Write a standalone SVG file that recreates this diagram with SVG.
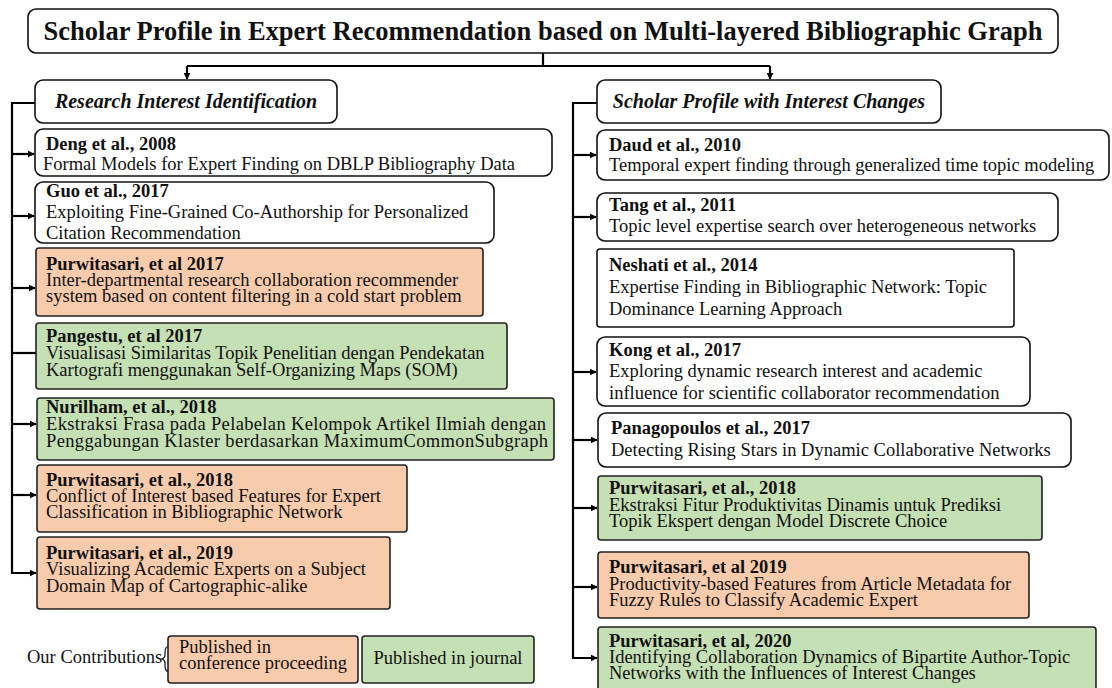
<svg xmlns="http://www.w3.org/2000/svg" width="1112" height="688" viewBox="0 0 1112 688">
  <defs>
    <marker id="arrow" viewBox="0 0 10 10" refX="9" refY="5" markerWidth="7" markerHeight="7" markerUnits="userSpaceOnUse" orient="auto">
      <path d="M0,0 L10,5 L0,10 z" fill="#000"/>
    </marker>
    <style>
      text { font-family: "Liberation Serif", "Times New Roman", serif; fill: #111; }
      .title { font-size: 26.5px; font-weight: bold; }
      .head { font-size: 20px; font-weight: bold; font-style: italic; }
      .t { font-size: 18.5px; font-weight: bold; }
      .b { font-size: 18.5px; }
      .white { fill: #fff; stroke: #111; stroke-width: 1.6; }
      .conf { fill: #F8CBAD; stroke: #222; stroke-width: 1.6; }
      .jour { fill: #C5E0B4; stroke: #222; stroke-width: 1.6; }
      .wire { fill: none; stroke: #000; stroke-width: 2.2; }
    </style>
  </defs>
  <rect width="1112" height="688" fill="#fff"/>

  <!-- connectors -->
  <g id="connectors" class="wire">
    <path d="M543,53 V66"/>
    <path d="M187,66 H770"/>
    <path d="M187,66 V79" marker-end="url(#arrow)"/>
    <path d="M770,66 V79" marker-end="url(#arrow)"/>
    <!-- left trunk -->
    <path d="M35,103 H12 V573 H36" marker-end="url(#arrow)"/>
    <path d="M12,154 H34" marker-end="url(#arrow)"/>
    <path d="M12,216 H34" marker-end="url(#arrow)"/>
    <path d="M12,288 H35" marker-end="url(#arrow)"/>
    <path d="M12,353 H36"/>
    <path d="M12,424 H36" marker-end="url(#arrow)"/>
    <path d="M12,495 H36" marker-end="url(#arrow)"/>
    <!-- right trunk -->
    <path d="M597,103 H573 V658 H597" marker-end="url(#arrow)"/>
    <path d="M573,155 H596" marker-end="url(#arrow)"/>
    <path d="M573,217 H596" marker-end="url(#arrow)"/>
    <path d="M573,372 H596" marker-end="url(#arrow)"/>
    <path d="M573,440 H597" marker-end="url(#arrow)"/>
    <path d="M573,508 H597" marker-end="url(#arrow)"/>
    <path d="M573,587 H597" marker-end="url(#arrow)"/>
  </g>

  <!-- root -->
  <g id="root">
    <rect class="white" x="28" y="9" width="1030" height="44" rx="8"/>
    <text class="title" x="543" y="40" text-anchor="middle">Scholar Profile in Expert Recommendation based on Multi-layered Bibliographic Graph</text>
  </g>

  <!-- branch headers -->
  <g id="research-interest">
    <rect class="white" x="35" y="80" width="302" height="43" rx="8"/>
    <text class="head" x="186" y="108" text-anchor="middle">Research Interest Identification</text>
  </g>
  <g id="interest-changes">
    <rect class="white" x="597" y="80" width="344" height="43" rx="8"/>
    <text class="head" x="769" y="108" text-anchor="middle">Scholar Profile with Interest Changes</text>
  </g>

  <!-- left column -->
  <g id="deng2008">
    <rect class="white" x="35" y="129" width="517" height="47" rx="8"/>
    <text class="t" x="46" y="150">Deng et al., 2008</text>
    <text class="b" x="43" y="170">Formal Models for Expert Finding on DBLP Bibliography Data</text>
  </g>
  <g id="guo2017">
    <rect class="white" x="35" y="182" width="459" height="61" rx="8"/>
    <text class="t" x="46" y="197">Guo et al., 2017</text>
    <text class="b" x="46" y="218">Exploiting Fine-Grained Co-Authorship for Personalized</text>
    <text class="b" x="46" y="239">Citation Recommendation</text>
  </g>
  <g id="purwitasari2017">
    <rect class="conf" x="36" y="248" width="447" height="68" rx="3"/>
    <text class="t" x="46" y="270">Purwitasari, et al 2017</text>
    <text class="b" x="46" y="286">Inter-departmental research collaboration recommender</text>
    <text class="b" x="46" y="302">system based on content filtering in a cold start problem</text>
  </g>
  <g id="pangestu2017">
    <rect class="jour" x="36" y="323" width="471" height="66" rx="3"/>
    <text class="t" x="46" y="342">Pangestu, et al 2017</text>
    <text class="b" x="46" y="359">Visualisasi Similaritas Topik Penelitian dengan Pendekatan</text>
    <text class="b" x="46" y="376">Kartografi menggunakan Self-Organizing Maps (SOM)</text>
  </g>
  <g id="nurilham2018">
    <rect class="jour" x="37" y="398" width="517" height="62" rx="3"/>
    <text class="t" x="46" y="413">Nurilham, et al., 2018</text>
    <text class="b" x="46" y="430" textLength="500">Ekstraksi Frasa pada Pelabelan Kelompok Artikel Ilmiah dengan</text>
    <text class="b" x="46" y="447" textLength="502">Penggabungan Klaster berdasarkan MaximumCommonSubgraph</text>
  </g>
  <g id="purwitasari2018a">
    <rect class="conf" x="37" y="465" width="370" height="67" rx="3"/>
    <text class="t" x="46" y="486">Purwitasari, et al., 2018</text>
    <text class="b" x="46" y="502">Conflict of Interest based Features for Expert</text>
    <text class="b" x="46" y="518">Classification in Bibliographic Network</text>
  </g>
  <g id="purwitasari2019a">
    <rect class="conf" x="37" y="537" width="353" height="72" rx="3"/>
    <text class="t" x="46" y="559">Purwitasari, et al., 2019</text>
    <text class="b" x="46" y="575">Visualizing Academic Experts on a Subject</text>
    <text class="b" x="46" y="592">Domain Map of Cartographic-alike</text>
  </g>

  <!-- legend -->
  <g id="legend">
    <text class="b" x="27" y="663">Our Contributions</text>
    <!-- brace tip peeking out from behind the legend swatches -->
    <path d="M170,646 Q165,646 165,652 L165,655 Q165,658 162,659 Q165,660 165,663 L165,666 Q165,672 170,672" fill="none" stroke="#111" stroke-width="1.2"/>
    <rect class="conf" x="168" y="636" width="190" height="47" rx="3"/>
    <text class="b" x="179" y="653">Published in</text>
    <text class="b" x="179" y="669">conference proceeding</text>
    <rect class="jour" x="362" y="636" width="172" height="47" rx="3"/>
    <text class="b" x="448" y="664" text-anchor="middle">Published in journal</text>
  </g>

  <!-- right column -->
  <g id="daud2010">
    <rect class="white" x="597" y="130" width="512" height="50" rx="8"/>
    <text class="t" x="609" y="151">Daud et al., 2010</text>
    <text class="b" x="609" y="171">Temporal expert finding through generalized time topic modeling</text>
  </g>
  <g id="tang2011">
    <rect class="white" x="597" y="193" width="461" height="48" rx="8"/>
    <text class="t" x="609" y="211">Tang et al., 2011</text>
    <text class="b" x="609" y="232">Topic level expertise search over heterogeneous networks</text>
  </g>
  <g id="neshati2014">
    <rect class="white" x="597" y="249" width="417" height="78" rx="3"/>
    <text class="t" x="609" y="271">Neshati et al., 2014</text>
    <text class="b" x="609" y="293">Expertise Finding in Bibliographic Network: Topic</text>
    <text class="b" x="609" y="315">Dominance Learning Approach</text>
  </g>
  <g id="kong2017">
    <rect class="white" x="597" y="337" width="433" height="69" rx="8"/>
    <text class="t" x="609" y="356">Kong et al., 2017</text>
    <text class="b" x="609" y="377">Exploring dynamic research interest and academic</text>
    <text class="b" x="609" y="399">influence for scientific collaborator recommendation</text>
  </g>
  <g id="panagopoulos2017">
    <rect class="white" x="598" y="413" width="473" height="54" rx="8"/>
    <text class="t" x="611" y="434">Panagopoulos et al., 2017</text>
    <text class="b" x="611" y="456">Detecting Rising Stars in Dynamic Collaborative Networks</text>
  </g>
  <g id="purwitasari2018b">
    <rect class="jour" x="598" y="476" width="444" height="64" rx="3"/>
    <text class="t" x="609" y="494">Purwitasari, et al., 2018</text>
    <text class="b" x="609" y="511">Ekstraksi Fitur Produktivitas Dinamis untuk Prediksi</text>
    <text class="b" x="609" y="527">Topik Ekspert dengan Model Discrete Choice</text>
  </g>
  <g id="purwitasari2019b">
    <rect class="conf" x="598" y="552" width="431" height="66" rx="3"/>
    <text class="t" x="609" y="573">Purwitasari, et al 2019</text>
    <text class="b" x="609" y="590">Productivity-based Features from Article Metadata for</text>
    <text class="b" x="609" y="606">Fuzzy Rules to Classify Academic Expert</text>
  </g>
  <g id="purwitasari2020">
    <rect class="jour" x="598" y="627" width="498" height="70" rx="3"/>
    <text class="t" x="609" y="647">Purwitasari, et al, 2020</text>
    <text class="b" x="609" y="663">Identifying Collaboration Dynamics of Bipartite Author-Topic</text>
    <text class="b" x="609" y="679">Networks with the Influences of Interest Changes</text>
  </g>
</svg>
